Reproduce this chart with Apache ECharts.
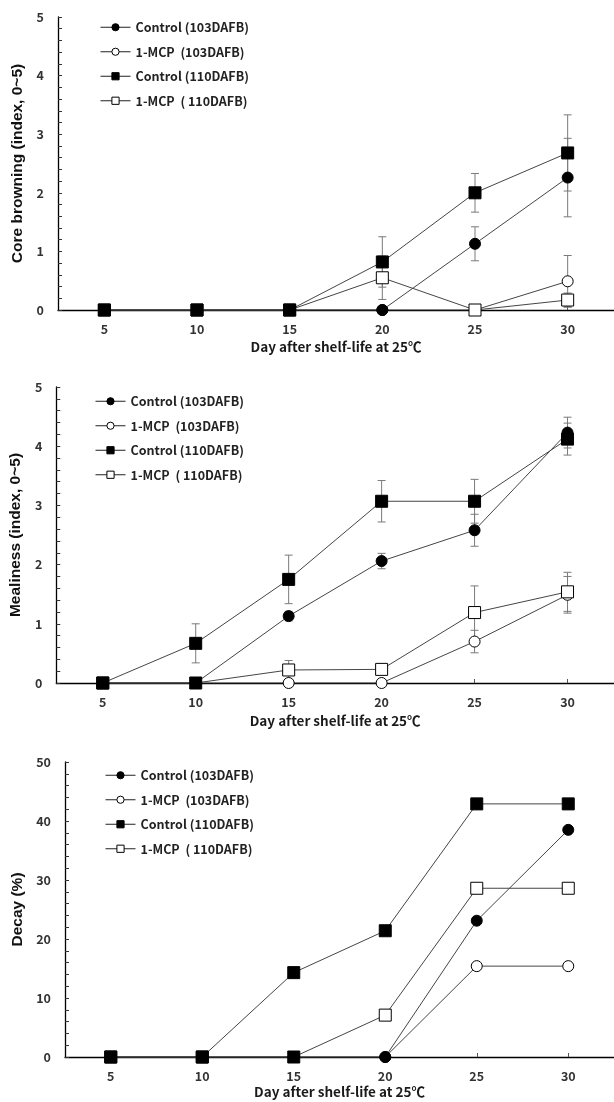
<!DOCTYPE html>
<html><head><meta charset="utf-8">
<script src="https://cdn.jsdelivr.net/npm/echarts@6/dist/echarts.min.js"></script>
<style>html,body{margin:0;padding:0;background:#fff}#c{width:614px;height:1102px}</style>
</head><body><div id="c"></div>
<script>
const days = ['5','10','15','20','25','30'];
const names = ['Control (103DAFB)','1-MCP  (103DAFB)','Control (110DAFB)','1-MCP  ( 110DAFB)'];

// Panel 1: Core browning
const cbCtl103 = [0,0,0,0,1.13,2.26];
const cbCtl103Err = [0,0,0,0,0.29,0.67];
const cbMcp103 = [0,0,0,0,0,0.49];
const cbMcp103Err = [0,0,0,0,0,0.44];
const cbCtl110 = [0,0,0,0.82,2.0,2.68];
const cbCtl110Err = [0,0,0,0.43,0.33,0.65];
const cbMcp110 = [0,0,0,0.55,0,0.17];
const cbMcp110Err = [0,0,0,0.37,0,0.12];

// Panel 2: Mealiness
const mlCtl103 = [0,0,1.13,2.06,2.58,4.23];
const mlCtl103Err = [0,0,0.08,0.13,0.27,0.26];
const mlMcp103 = [0,0,0,0,0.70,1.49];
const mlMcp103Err = [0,0,0,0,0.19,0.31];
const mlCtl110 = [0,0.67,1.75,3.07,3.07,4.12];
const mlCtl110Err = [0,0.33,0.41,0.35,0.37,0.27];
const mlMcp110 = [0,0,0.22,0.23,1.19,1.54];
const mlMcp110Err = [0,0,0.16,0.05,0.45,0.33];

// Panel 3: Decay
const dcCtl103 = [0,0,0,0,23.1,38.5];
const dcMcp103 = [0,0,0,0,15.4,15.4];
const dcCtl110 = [0,0,14.3,21.4,42.9,42.9];
const dcMcp110 = [0,0,0,7.1,28.6,28.6];

const LINE = '#454545', ERR = '#7a7a7a';
const tickFont = {fontFamily:'"Noto Sans CJK KR"', fontWeight:'bold', fontSize:12.5, color:'#333'};

const panels = [
  {grid:{left:58, top:17, right:0, height:293}, max:5, interval:1, yname:'Core browning (index, 0~5)', ynameGap:26, xnameGap:30, legend:{left:95, top:16},
   s:[cbCtl103,cbMcp103,cbCtl110,cbMcp110], e:[cbCtl103Err,cbMcp103Err,cbCtl110Err,cbMcp110Err]},
  {grid:{left:54, top:387, right:0, height:296}, max:5, interval:1, yname:'Mealiness (index, 0~5)', ynameGap:26, xnameGap:31, legend:{left:90, top:390},
   s:[mlCtl103,mlMcp103,mlCtl110,mlMcp110], e:[mlCtl103Err,mlMcp103Err,mlCtl110Err,mlMcp110Err]},
  {grid:{left:65, top:762, right:0, height:295}, max:50, interval:10, yname:'Decay (%)', ynameGap:33, xnameGap:28, legend:{left:100, top:764},
   s:[dcCtl103,dcMcp103,dcCtl110,dcMcp110], e:null}
];

const styles = [
  {symbol:'circle', size:11, fill:'#000'},
  {symbol:'circle', size:11, fill:'#fff'},
  {symbol:'rect', size:12, fill:'#000'},
  {symbol:'rect', size:12, fill:'#fff'}
];
// draw order: 1-MCP103, Control103, Control110, 1-MCP110
const order = [1,0,2,3];

const option = {animation:false, grid:[], xAxis:[], yAxis:[], legend:[], series:[]};

panels.forEach((p, pi) => {
  option.grid.push(p.grid);
  option.xAxis.push({type:'category', gridIndex:pi, data:days, boundaryGap:true,
    axisLine:{lineStyle:{color:'#000', width:1.3}},
    axisTick:{show:true, inside:true, alignWithLabel:true, length:4, lineStyle:{color:'#555'}},
    axisLabel:Object.assign({margin:13}, tickFont),
    name:'Day after shelf-life at 25\u2103', nameLocation:'middle', nameGap:p.xnameGap,
    nameTextStyle:{fontFamily:'"Noto Sans CJK KR"', fontWeight:'bold', fontSize:13.5, color:'#1a1a1a'}});
  option.yAxis.push({type:'value', gridIndex:pi, min:0, max:p.max, interval:p.interval,
    axisLine:{show:true, lineStyle:{color:'#000', width:1.3}},
    axisTick:{show:true, inside:true, length:4, lineStyle:{color:'#333'}},
    minorTick:{show:true, splitNumber:5, length:4, lineStyle:{color:'#333'}},
    splitLine:{show:false},
    axisLabel:Object.assign({margin:14}, tickFont),
    name:p.yname, nameLocation:'middle', nameGap:p.ynameGap,
    nameTextStyle:{fontFamily:'"Liberation Sans", Arial', fontWeight:'bold', fontSize:15.5, color:'#111'}});
  option.legend.push({orient:'vertical', left:p.legend.left, top:p.legend.top,
    itemWidth:30, itemHeight:9, itemGap:12, itemTextGap:2,
    textStyle:{fontFamily:'"Noto Sans CJK KR"', fontWeight:'bold', fontSize:12.5, color:'#222'},
    data:names.map((n,i)=>({name:n, itemStyle:{color:styles[i].fill, borderColor:'#000', borderWidth:1}, lineStyle:{color:'#222', width:1}}))});
  // error bars
  if (p.e) {
    const ed = [];
    p.e.forEach((arr, si) => arr.forEach((err, xi) => { if (err > 0) ed.push([xi, p.s[si][xi], err]); }));
    option.series.push({type:'custom', xAxisIndex:pi, yAxisIndex:pi, z:1, silent:true, data:ed,
      renderItem:(params, api) => {
        const x = api.value(0), v = api.value(1), e = api.value(2);
        const top = api.coord([x, v + e]), bot = api.coord([x, v - e]);
        const w = 4;
        const st = {stroke:ERR, lineWidth:1};
        return {type:'group', children:[
          {type:'line', shape:{x1:top[0], y1:top[1], x2:bot[0], y2:bot[1]}, style:st},
          {type:'line', shape:{x1:top[0]-w, y1:top[1], x2:top[0]+w, y2:top[1]}, style:st},
          {type:'line', shape:{x1:bot[0]-w, y1:bot[1], x2:bot[0]+w, y2:bot[1]}, style:st}
        ]};
      }});
  }
  order.forEach(si => {
    const st = styles[si];
    const vals = p.s[si];
    let data = vals;
    if (si === 3) {
      // leading zero points of this series are shown filled in the original figure
      const firstNZ = vals.findIndex(v => v > 0);
      data = vals.map((v, i) => (i < firstNZ && v === 0) ? {value:v, itemStyle:{color:'#000'}} : v);
    }
    option.series.push({type:'line', name:names[si], xAxisIndex:pi, yAxisIndex:pi, z:2,
      data:data, symbol:st.symbol, symbolSize:st.size, showAllSymbol:true,
      lineStyle:{color:LINE, width:1},
      itemStyle:{color:st.fill, borderColor:'#000', borderWidth:1, opacity:1},
      emphasis:{disabled:true}});
  });
});

const chart = echarts.init(document.getElementById('c'), null, {renderer:'canvas'});
chart.setOption(option);
</script></body></html>
